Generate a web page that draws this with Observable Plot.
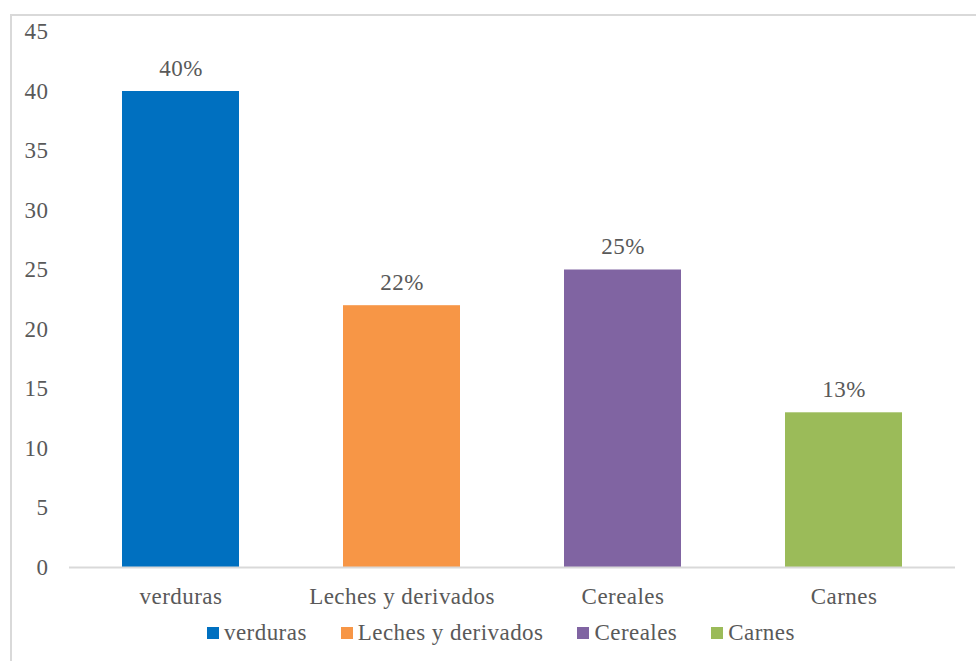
<!DOCTYPE html>
<html>
<head>
<meta charset="utf-8">
<script src="https://cdn.jsdelivr.net/npm/d3@7"></script>
<script src="https://cdn.jsdelivr.net/npm/@observablehq/plot@0.6"></script>
<style>
  html, body { margin: 0; padding: 0; background: #fff; overflow: hidden; }
  body { width: 976px; height: 661px; position: relative; font-family: 'Liberation Serif', Tinos, 'Times New Roman', 'DejaVu Serif', serif; }
  #frame { position: absolute; left: 10px; top: 14px; width: 1000px; height: 700px; border: 2px solid #d9d9d9; box-sizing: border-box; }
  #chart { position: absolute; left: 0; top: 0; }
  #chart svg, #chart text { font-family: 'Liberation Serif', Tinos, 'Times New Roman', 'DejaVu Serif', serif !important; letter-spacing: 0.45px; }
  #legend { position: absolute; left: 207px; top: 620px; display: flex; align-items: center; font-size: 23px; letter-spacing: 0.45px; color: #595959; white-space: nowrap; }
  #legend .item { display: flex; align-items: center; margin-right: 34px; }
  #legend .sw { width: 12px; height: 12px; margin-right: 5px; }
</style>
</head>
<body>
<div id="frame"></div>
<div id="chart"></div>
<div id="legend"></div>
<script>
const categories = ["verduras", "Leches y derivados", "Cereales", "Carnes"];
const values = [40, 22, 25, 13];
const labels = ["40%", "22%", "25%", "13%"];
const colors = ["#0070C0", "#F79646", "#8064A2", "#9BBB59"];
const yTicks = [0, 5, 10, 15, 20, 25, 30, 35, 40, 45];

const data = categories.map((c, i) => ({category: c, value: values[i], label: labels[i]}));

const chart = Plot.plot({
  width: 976,
  height: 615,
  marginLeft: 69,
  marginRight: 21,
  marginTop: 31.5,
  marginBottom: 48,
  style: {fontSize: "23px", color: "#595959", background: "transparent"},
  x: {domain: categories, paddingInner: 0.47, paddingOuter: 0.235, label: null},
  y: {domain: [0, 45], ticks: yTicks, label: null},
  color: {domain: categories, range: colors},
  marks: [
    Plot.barY(data, {x: "category", y: "value", fill: "category"}),
    Plot.ruleY([0], {stroke: "#d9d9d9", strokeWidth: 2}),
    Plot.text(data, {x: "category", y: "value", text: "label", dy: -23, fill: "#595959", fontSize: 23}),
    Plot.axisX({tickSize: 0, tickPadding: 20, fill: "#595959", label: null}),
    Plot.axisY({ticks: yTicks, tickSize: 0, tickPadding: 21, fill: "#595959", label: null})
  ]
});
document.getElementById("chart").appendChild(chart);

const legend = document.getElementById("legend");
categories.forEach((c, i) => {
  const item = document.createElement("div");
  item.className = "item";
  const sw = document.createElement("span");
  sw.className = "sw";
  sw.style.background = colors[i];
  const t = document.createElement("span");
  t.textContent = c;
  item.appendChild(sw);
  item.appendChild(t);
  legend.appendChild(item);
});
</script>
</body>
</html>
